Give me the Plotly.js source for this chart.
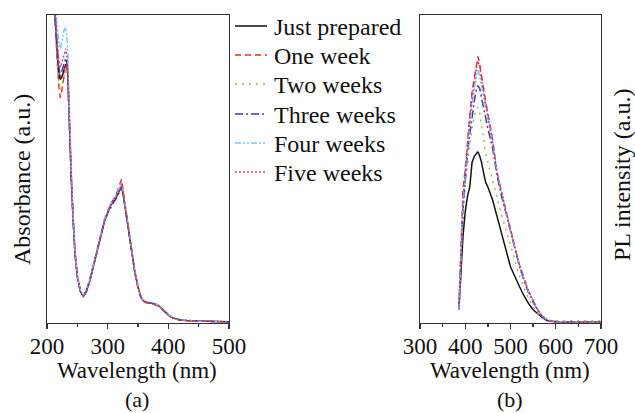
<!DOCTYPE html>
<html><head><meta charset="utf-8">
<script src="https://cdn.plot.ly/plotly-3.0.1.min.js"></script>
<style>html,body{margin:0;padding:0;background:#fff;}#chart{width:635px;height:413px;}</style>
</head><body><div id="chart"></div>
<script>
const seriesNames = ['Just prepared','One week','Two weeks','Three weeks','Four weeks','Five weeks'];

// Panel (a): absorbance
const wlA = [210,213,216,219,222,225,228,231,234,237,240,243,246,250,255,260,265,270,275,280,285,290,295,300,305,310,315,320,323,326,330,335,340,345,350,355,360,365,370,375,380,385,390,395,400,405,410,420,430,450,475,500];
const absJust  = [1.2,1.0,0.90,0.81,0.79,0.80,0.82,0.84,0.82,0.63,0.47,0.34,0.23,0.15,0.10,0.084,0.10,0.13,0.17,0.21,0.255,0.30,0.33,0.355,0.38,0.395,0.41,0.43,0.443,0.41,0.36,0.29,0.22,0.16,0.115,0.08,0.068,0.063,0.062,0.06,0.057,0.052,0.044,0.033,0.023,0.016,0.012,0.007,0.005,0.003,0.002,0.001];
const absOne   = [1.2,1.0,0.88,0.78,0.73,0.76,0.80,0.84,0.81,0.62,0.46,0.33,0.22,0.145,0.10,0.085,0.105,0.135,0.175,0.215,0.26,0.305,0.335,0.36,0.385,0.40,0.42,0.45,0.465,0.42,0.365,0.29,0.22,0.16,0.11,0.077,0.066,0.062,0.061,0.059,0.055,0.05,0.042,0.031,0.021,0.014,0.01,0.006,0.004,0.003,0.002,0.001];
const absTwo   = [1.2,1.0,0.89,0.79,0.75,0.77,0.80,0.83,0.80,0.62,0.46,0.33,0.225,0.15,0.10,0.086,0.105,0.135,0.175,0.215,0.26,0.305,0.335,0.36,0.385,0.40,0.415,0.44,0.452,0.415,0.36,0.29,0.22,0.16,0.113,0.078,0.067,0.063,0.062,0.06,0.056,0.051,0.043,0.032,0.022,0.015,0.011,0.007,0.005,0.003,0.002,0.001];
const absThree = [1.2,1.0,0.92,0.84,0.80,0.82,0.84,0.86,0.83,0.64,0.47,0.34,0.23,0.15,0.10,0.083,0.10,0.13,0.17,0.21,0.255,0.30,0.33,0.355,0.375,0.39,0.405,0.425,0.44,0.41,0.36,0.29,0.22,0.16,0.115,0.08,0.068,0.064,0.063,0.061,0.058,0.053,0.045,0.034,0.024,0.016,0.012,0.007,0.005,0.003,0.002,0.001];
const absFour  = [1.2,1.05,0.98,0.92,0.89,0.92,0.95,0.96,0.90,0.68,0.49,0.35,0.235,0.155,0.105,0.087,0.105,0.135,0.175,0.215,0.26,0.305,0.335,0.36,0.385,0.40,0.415,0.44,0.456,0.42,0.365,0.295,0.225,0.165,0.118,0.082,0.07,0.066,0.065,0.063,0.059,0.054,0.046,0.035,0.024,0.017,0.012,0.007,0.005,0.003,0.002,0.001];
const absFive  = [1.2,1.02,0.94,0.86,0.83,0.85,0.87,0.89,0.85,0.65,0.48,0.34,0.23,0.15,0.10,0.085,0.10,0.13,0.17,0.21,0.255,0.30,0.333,0.358,0.382,0.398,0.413,0.435,0.45,0.415,0.36,0.29,0.22,0.16,0.115,0.08,0.068,0.064,0.063,0.061,0.057,0.052,0.044,0.033,0.023,0.016,0.012,0.007,0.005,0.003,0.002,0.001];

// Panel (b): PL intensity
const wlB = [386,390,395,400,405,410,415,420,425,428,432,436,440,445,450,455,460,470,480,490,500,510,520,530,540,550,560,570,580,590,600,625,650,675,700];
const plJust  = [0.04,0.14,0.28,0.36,0.41,0.44,0.52,0.54,0.55,0.555,0.54,0.52,0.49,0.455,0.44,0.42,0.40,0.345,0.285,0.235,0.18,0.145,0.115,0.085,0.06,0.04,0.026,0.015,0.005,0.002,0.001,0,0,0,0];
const plOne   = [0.05,0.22,0.43,0.50,0.60,0.67,0.75,0.80,0.85,0.865,0.84,0.80,0.77,0.72,0.68,0.64,0.60,0.49,0.42,0.365,0.30,0.24,0.185,0.14,0.10,0.07,0.04,0.02,0.008,0.003,0.001,0,0,0,0];
const plTwo   = [0.04,0.20,0.38,0.45,0.52,0.58,0.63,0.67,0.695,0.70,0.68,0.64,0.60,0.55,0.52,0.49,0.46,0.40,0.35,0.30,0.25,0.195,0.15,0.11,0.075,0.05,0.03,0.016,0.007,0.005,0.004,0.004,0.004,0.004,0.004];
const plThree = [0.04,0.18,0.36,0.46,0.55,0.61,0.67,0.72,0.76,0.77,0.76,0.73,0.70,0.66,0.63,0.60,0.57,0.48,0.41,0.355,0.295,0.235,0.18,0.135,0.095,0.065,0.038,0.018,0.007,0.002,0.001,0,0,0,0];
const plFour  = [0.04,0.19,0.38,0.48,0.57,0.64,0.71,0.76,0.80,0.82,0.80,0.77,0.74,0.70,0.66,0.63,0.59,0.49,0.42,0.36,0.30,0.24,0.185,0.14,0.10,0.068,0.04,0.02,0.008,0.003,0.001,0,0,0,0];
const plFive  = [0.05,0.20,0.40,0.49,0.59,0.66,0.73,0.79,0.83,0.85,0.83,0.79,0.76,0.71,0.67,0.63,0.59,0.49,0.42,0.36,0.30,0.24,0.185,0.14,0.10,0.07,0.04,0.02,0.008,0.003,0.001,0,0,0,0];

const colors = ['#111111','#ee2a2a','#8cc63f','#3b3fa0','#7cc8f0','#c0418f'];
const dashes = ['solid','6px,4px','2px,5px','8px,3px,2px,3px','6px,2px,2px,2px,2px,2px','2px,2px'];

const absSeries = [absJust,absOne,absTwo,absThree,absFour,absFive];
const plSeries = [plJust,plOne,plTwo,plThree,plFour,plFive];

const traces = [];
absSeries.forEach((ys,i)=>{
  traces.push({x:wlA,y:ys,type:'scatter',mode:'lines',name:seriesNames[i],
    line:{color:colors[i],width:1.5,dash:dashes[i]},xaxis:'x',yaxis:'y',showlegend:false});
});
plSeries.forEach((ys,i)=>{
  traces.push({x:wlB,y:ys,type:'scatter',mode:'lines',name:seriesNames[i],
    line:{color:colors[i],width:1.5,dash:dashes[i]},xaxis:'x2',yaxis:'y2',showlegend:false});
});

const F = 'Liberation Serif, Times New Roman, serif';
const TXT = '#111';
const axBase = {showline:true,mirror:true,linecolor:'#333',linewidth:1.4,showgrid:false,zeroline:false};
const H = 308, T = 15;
const py = p => (323 - p)/H;
const px = p => p/635;

const shapes = [];
const annotations = [
  {text:'Absorbance (a.u.)',x:px(22),y:py(180),textangle:-90,size:24},
  {text:'PL intensity (a.u.)',x:px(622),y:py(175),textangle:-90,size:24},
  {text:'Wavelength (nm)',x:px(137),y:py(370),size:23},
  {text:'Wavelength (nm)',x:px(510),y:py(370),size:23},
  {text:'(a)',x:px(137),y:py(399),size:22},
  {text:'(b)',x:px(510),y:py(399),size:22}
].map(a=>({text:a.text,xref:'paper',yref:'paper',x:a.x,y:a.y,xanchor:'center',yanchor:'middle',
  textangle:a.textangle||0,showarrow:false,font:{family:F,size:a.size,color:TXT}}));

// legend (drawn manually to match spacing)
const legendRowsY = [26,55,84,114,143,172];
seriesNames.forEach((n,i)=>{
  shapes.push({type:'line',xref:'paper',yref:'paper',x0:px(235),x1:px(267),y0:py(legendRowsY[i]),y1:py(legendRowsY[i]),
    line:{color:colors[i],width:1.5,dash:dashes[i]}});
  annotations.push({text:n,xref:'paper',yref:'paper',x:px(272),y:py(legendRowsY[i]+1),xanchor:'left',yanchor:'middle',
    showarrow:false,font:{family:F,size:24,color:TXT}});
});

const layout = {
  width:635,height:413,
  margin:{l:0,r:0,t:T,b:90},
  paper_bgcolor:'#fff',plot_bgcolor:'#fff',
  font:{family:F,size:23,color:TXT},
  showlegend:false,
  xaxis:Object.assign({},axBase,{domain:[px(47),px(229)],range:[200,500],anchor:'y',
    tickmode:'linear',tick0:200,dtick:100,ticks:'outside',ticklen:5,tickwidth:1.3,tickcolor:'#333',
    ticklabelstandoff:-3,
    minor:{dtick:50,ticks:'outside',ticklen:3,tickwidth:1.3,tickcolor:'#333'},
    tickfont:{family:F,size:23,color:TXT}}),
  yaxis:Object.assign({},axBase,{domain:[0,1],range:[-0.003,1],showticklabels:false,ticks:'',anchor:'x'}),
  xaxis2:Object.assign({},axBase,{domain:[px(420),px(601)],range:[300,700],anchor:'y2',
    tickmode:'linear',tick0:300,dtick:100,ticks:'outside',ticklen:5,tickwidth:1.3,tickcolor:'#333',
    ticklabelstandoff:-3,
    minor:{dtick:50,ticks:'outside',ticklen:3,tickwidth:1.3,tickcolor:'#333'},
    tickfont:{family:F,size:23,color:TXT}}),
  yaxis2:Object.assign({},axBase,{domain:[0,1],range:[-0.003,1],showticklabels:false,ticks:'',anchor:'x2'}),
  shapes:shapes,
  annotations:annotations
};
Plotly.newPlot('chart',traces,layout,{staticPlot:true,displayModeBar:false});
</script></body></html>
